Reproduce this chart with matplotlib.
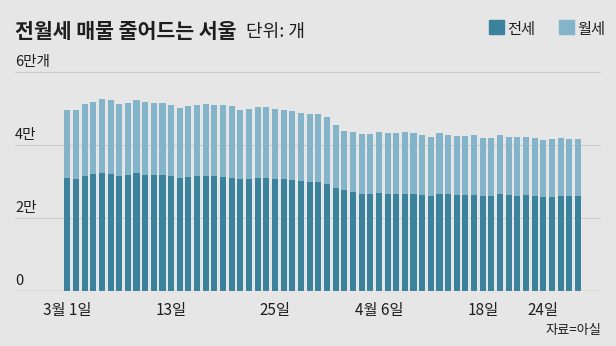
import matplotlib
matplotlib.use("Agg")
import matplotlib.pyplot as plt
import numpy as np

plt.rcParams['font.family'] = ['Noto Sans CJK KR', 'DejaVu Sans']

# 서울 전월세 매물 건수 (3월 1일 ~ 4월 29일)
jeonse = [31020, 30660, 31570, 31930, 32290, 32110, 31380, 31750, 32290, 31750,
          31750, 31750, 31380, 31020, 31200, 31570, 31570, 31380, 31200, 31020,
          30660, 30660, 31020, 31020, 30660, 30660, 30470, 30110, 29930, 29930,
          29200, 28290, 27560, 27020, 26650, 26650, 26840, 26650, 26650, 26650,
          26650, 26200, 26110, 26470, 26650, 26290, 26290, 26290, 26110, 26110,
          26470, 26290, 26110, 26290, 25930, 25740, 25740, 26110, 25930, 26110]
wolse = [18560, 18920, 19640, 19830, 20380, 20200, 19830, 19830, 20020, 20010,
         19650, 19650, 19650, 19100, 19470, 19460, 19640, 19470, 19650, 19650,
         18920, 19100, 19470, 19290, 19100, 18920, 18740, 18560, 18560, 18560,
         18380, 17100, 16380, 16550, 16380, 16380, 16730, 16560, 16560, 16920,
         16560, 16550, 16190, 16740, 16200, 16190, 16190, 16370, 15830, 15830,
         16190, 16010, 16190, 15830, 16010, 15650, 15830, 15830, 15820, 15640]

tick_pos = [0, 12, 24, 36, 48, 55]
tick_labels = ['3월 1일', '13일', '25일', '4월 6일', '18일', '24일']
y_ticks = [0, 20000, 40000, 60000]
y_labels = ['0', '2만', '4만', '6만개']

c_jeonse = '#3b839c'
c_wolse = '#84b4ca'
bg = '#e6e6e6'
txt = '#1e1e1e'

fig = plt.figure(figsize=(6.16, 3.46), dpi=100, facecolor=bg)
ax = fig.add_axes([15/616, 55/346, 586/616, 219*60500/60000/346])
ax.set_facecolor(bg)

x = np.arange(len(jeonse))
ax.bar(x, jeonse, width=0.7, color=c_jeonse, zorder=3)
ax.bar(x, wolse, width=0.7, bottom=jeonse, color=c_wolse, zorder=3)

ax.set_xlim(-6.04, 61.66)
ax.set_ylim(0, 60500)

for s in ax.spines.values():
    s.set_visible(False)
for v in y_ticks[1:]:
    ax.axhline(v, color='#cdcdcd', lw=0.8, zorder=1)
ax.axhline(0, color='#9a9a9a', lw=0.9, zorder=4)

ax.set_yticks([])
for v, lab in zip(y_ticks, y_labels):
    ax.annotate(lab, xy=(0, v), xycoords=('axes fraction', 'data'),
                xytext=(0, 4.5), textcoords='offset points',
                ha='left', va='baseline', fontsize=10.5, color=txt)

ax.set_xticks(tick_pos)
ax.set_xticklabels(tick_labels, fontsize=11, color=txt)
ax.tick_params(axis='x', length=0, pad=8)

# 제목, 단위
fig.text(15/616, 1 - 38/346, '전월세 매물 줄어드는 서울', fontsize=14.8,
         fontweight='bold', color=txt, ha='left', va='baseline')
fig.text(246/616, 1 - 37/346, '단위: 개', fontsize=13, color=txt,
         ha='left', va='baseline')

# 범례
for x0, col, lab in [(489, c_jeonse, '전세'), (559, c_wolse, '월세')]:
    fig.patches.append(plt.Rectangle((x0/616, 1 - 34/346), 15/616, 14/346,
                                     transform=fig.transFigure, color=col))
    fig.text((x0 + 18)/616, 1 - 34/346, lab, fontsize=11, color=txt,
             ha='left', va='baseline')

fig.text(601/616, 1 - 334/346, '자료=아실', fontsize=9.5, color=txt,
         ha='right', va='baseline')

plt.savefig('out.png', dpi=100, facecolor=bg)
